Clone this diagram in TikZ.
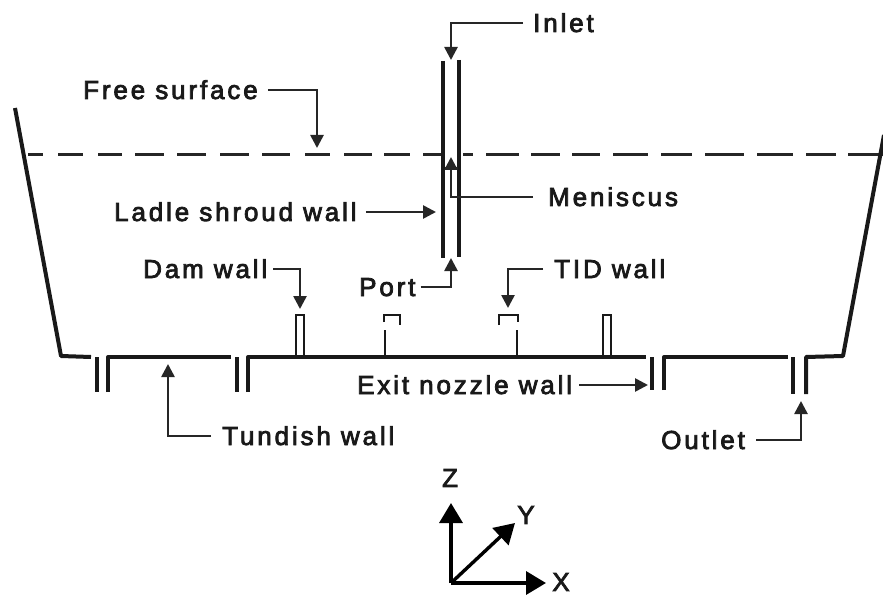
\documentclass[tikz,border=0pt]{standalone}
\usepackage{fontspec}
\setmainfont[LetterSpace=11,FakeBold=3]{Liberation Sans}
\usetikzlibrary{arrows.meta}
\tikzset{
  wall/.style={line width=4pt,line cap=butt,line join=round,draw=black!90},
  thin wall/.style={line width=2.4pt,draw=black!90},
  lead/.style={line width=2.6pt,draw=black!85,-{Triangle[length=13pt,width=13pt]}},
  axis/.style={line width=3.4pt,draw=black,-{Triangle[length=20pt,width=23pt]}},
  lbl/.style={inner sep=0pt,text height=18pt,text depth=0pt,anchor=west,font=\fontsize{26}{26}\selectfont,text=black!90},
  axl/.style={inner sep=0pt,font=\fontsize{26}{26}\selectfont,text=black!90}
}
\begin{document}
\begin{tikzpicture}[x=1pt,y=-1pt]
\useasboundingbox (0,0) rectangle (883,596);
% free surface
\coordinate (fsL) at (28,155); \coordinate (fsR) at (883,155);
\draw[line width=3pt,draw=black!85,dash pattern=on 15pt off 15pt on 25pt off 15pt on 24pt off 13pt on 29pt off 13pt on 29pt off 14pt on 29pt off 13pt on 28pt off 15pt on 25pt off 14pt on 28pt off 12pt on 26pt off 13pt on 18pt off 22pt on 10pt off 13pt on 33pt off 12pt on 29pt off 12pt on 28pt off 13pt on 35pt off 13pt on 31pt off 13pt on 39pt off 13pt on 36pt off 13pt on 30pt off 12pt on 35pt off 10pt] (fsL) -- (fsR);
% tundish outline
\coordinate (lt) at (15,108); \coordinate (lb) at (61,356);
\coordinate (rt) at (884,135); \coordinate (rb) at (843,356);
\draw[wall] (lt) -- (lb) -- (91,357);
\draw[wall] (97,357) -- (97,392);
\draw[wall] (108,392) -- (108,357) -- (231,357);
\draw[wall] (237,357) -- (237,392);
\draw[wall] (248,392) -- (248,357) -- (646,357);
\draw[wall] (652,357) -- (652,390);
\draw[wall] (664,390) -- (664,357) -- (788,357);
\draw[wall] (793,357) -- (793,394);
\draw[wall] (806,394) -- (806,357) -- (rb) -- (rt);
% baffles
\draw[thin wall] (296,357) -- (296,315) -- (304,315) -- (304,357);
\draw[thin wall] (603,357) -- (603,315) -- (611,315) -- (611,357);
\draw[thin wall] (385,357) -- (385,330);
\draw[thin wall] (384,322) -- (384,315) -- (400,315) -- (400,325);
\draw[thin wall] (517,357) -- (517,330);
\draw[thin wall] (499,325) -- (499,315) -- (518,315) -- (518,322);
% shroud
\draw[wall] (443,61) -- (443,258);
\draw[wall] (459,60) -- (459,257);
\draw[line width=1.6pt,draw=black!85] (445,168) -- (458,168);
% labels
\node[lbl] (inlet) at (533,23) {Inlet};
\node[lbl] (free) at (83,90) {Free surface};
\node[lbl] (men) at (548,197) {Meniscus};
\node[lbl] (ladle) at (114,212) {Ladle shroud wall};
\node[lbl] (dam) at (143,269) {Dam wall};
\node[lbl] (port) at (359,287) {Port};
\node[lbl] (tid) at (554,269) {TID wall};
\node[lbl] (exit) at (357,385) {Exit nozzle wall};
\node[lbl] (tund) at (222,436) {Tundish wall};
\node[lbl] (out) at (661,440) {Outlet};
% leader targets
\coordinate (tInlet) at (451,60);
\coordinate (tFree) at (317,148);
\coordinate (tMen) at (451,157);
\coordinate (tLadle) at (436,212);
\coordinate (tDam) at (300,309);
\coordinate (tPort) at (451,258);
\coordinate (tTid) at (508,308);
\coordinate (tExit) at (648,385);
\coordinate (tTund) at (168,364);
\coordinate (tOut) at (801,401);
\draw[lead] ([xshift=-10pt]inlet.west) -| (tInlet);
\draw[lead] ([xshift=10pt]free.east) -| (tFree);
\draw[lead] ([xshift=-15pt]men.west) -| (tMen);
\draw[lead] ([xshift=9pt]ladle.east) -- (tLadle);
\draw[lead] ([xshift=6pt]dam.east) -| (tDam);
\draw[lead] ([xshift=5pt]port.east) -| (tPort);
\draw[lead] ([xshift=-11pt]tid.west) -| (tTid);
\draw[lead] ([xshift=7pt]exit.east) -- (tExit);
\draw[lead] ([xshift=-11pt]tund.west) -| (tTund);
\draw[lead] ([xshift=11pt]out.east) -| (tOut);
% axes
\coordinate (o) at (451,583);
\coordinate (ax) at (546,583);
\coordinate (ay) at (515,523);
\coordinate (az) at (451,503);
\draw[axis] (o) -- (ax);
\draw[axis] (o) -- (ay);
\draw[axis] (o) -- (az);
\node[axl] (zl) at (450,478) {Z};
\node[axl] (yl) at (526,515) {Y};
\node[axl] (xl) at (561,582) {X};
\end{tikzpicture}
\end{document}
